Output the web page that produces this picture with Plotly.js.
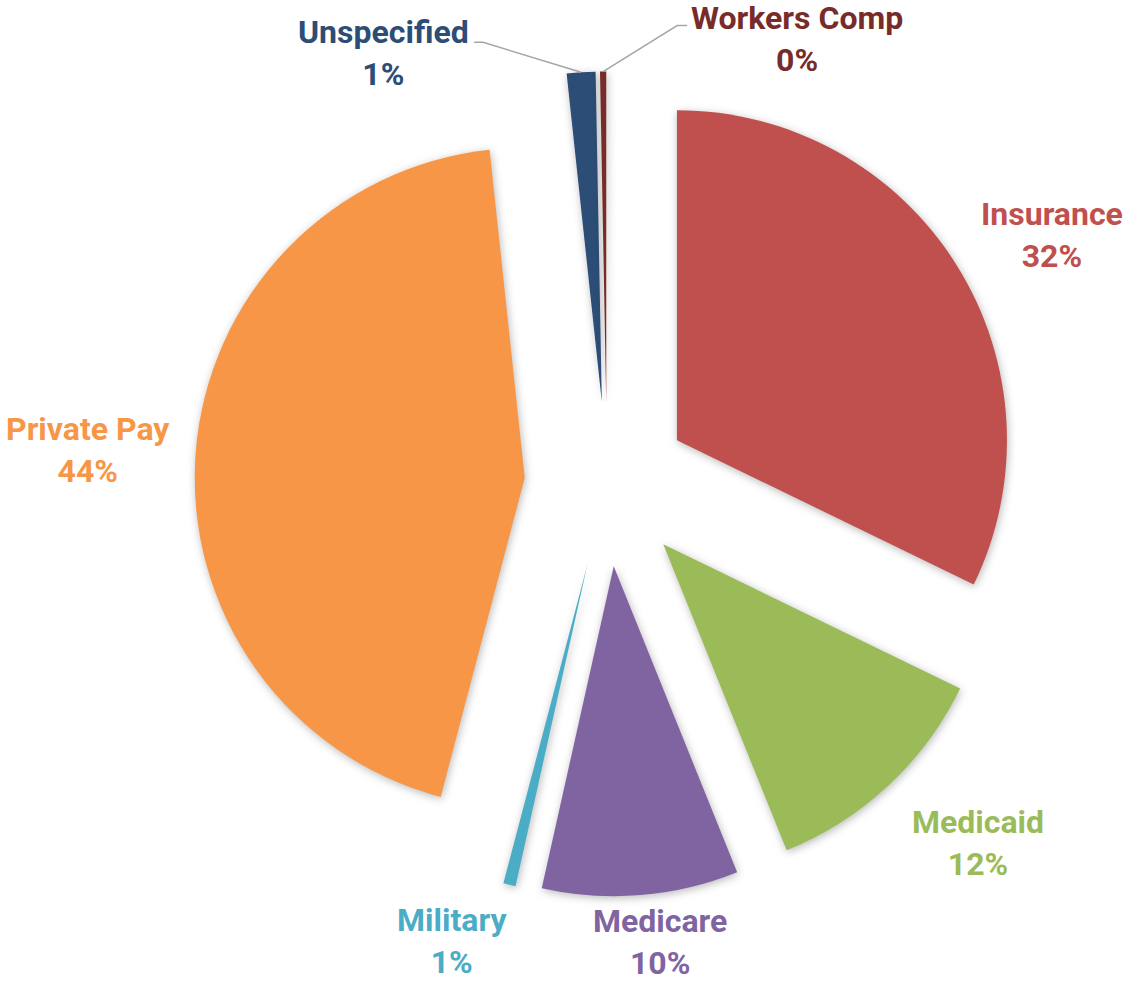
<!DOCTYPE html>
<html>
<head>
<meta charset="utf-8">
<script src="https://cdn.plot.ly/plotly-3.0.1.min.js"></script>
<style>
html,body{margin:0;padding:0;background:#fff;}
#chart{width:1128px;height:981px;}
#chart .pielayer .slice path.surface{filter:drop-shadow(1px 2px 4px rgba(0,0,0,0.28));}
</style>
</head>
<body>
<div id="chart"></div>
<script>
// ---- data ----
const categories = ["Insurance", "Medicaid", "Medicare", "Military", "Private Pay", "Unspecified", "Workers Comp"];
const values = [32.2, 11.7, 9.6, 0.6, 44.2, 1.4, 0.3];
const colors = ["#C0504D", "#9BBB59", "#8064A2", "#4BACC6", "#F79646", "#2C4D75", "#772C2A"];

// ---- layout settings ----
const W = 1128, H = 981;
const cx = 607, cy = 484, R = 330, pull = 0.25;
const half = R * (1 + pull);
const labelDist = 438;
// label placement tweaks (px) relative to the computed spot
const labelNudge = [[2, 24], [5, -2], [17, -20], [-51, -10], [1, -1], null, null];
// labels connected with leader lines: [label offset from slice tip, elbow offset from label]
const leader = {5: {dx: -111, dy: -19, anchor: "right", elbow: [[13, -11], [4, -11]]},
                6: {dx: 87, dy: -33, anchor: "left", elbow: [[-13, -13], [-3, -13]]}};
const FONT = "Roboto, 'Open Sans', sans-serif";

const total = values.reduce((a, b) => a + b, 0);
const px2x = p => p / W, py2y = p => 1 - p / H;

const annotations = [];
const shapes = [];
let cum = 0;
values.forEach((v, i) => {
  const mid = (cum + v / 2) / total * 2 * Math.PI;
  cum += v;
  const ux = Math.sin(mid), uy = -Math.cos(mid);
  const pct = Math.round(v / total * 100) + "%";
  const text = categories[i] + "<br>" + pct;
  const base = {text: text, showarrow: false, xref: "paper", yref: "paper", borderpad: 0,
    font: {family: FONT, size: 32, color: colors[i], weight: "bold"}, align: "center"};
  if (leader[i]) {
    const L = leader[i];
    const tx = cx + half * ux, ty = cy + half * uy;
    const lx = tx + L.dx, ly = ty + L.dy;
    annotations.push(Object.assign(base, {x: px2x(lx), y: py2y(ly), xanchor: L.anchor, yanchor: "middle"}));
    const e1 = [lx + L.elbow[0][0], ly + L.elbow[0][1]];
    const e2 = [lx + L.elbow[1][0], ly + L.elbow[1][1]];
    shapes.push({type: "path", xref: "paper", yref: "paper",
      path: `M ${px2x(tx)} ${py2y(ty)} L ${px2x(e1[0])} ${py2y(e1[1])} L ${px2x(e2[0])} ${py2y(e2[1])}`,
      line: {color: "#A6A6A6", width: 1.5}});
  } else {
    const n = labelNudge[i] || [0, 0];
    const lx = cx + labelDist * ux + n[0], ly = cy + labelDist * uy + n[1];
    const xa = ux > 0.3 ? "left" : (ux < -0.3 ? "right" : "center");
    const ya = uy > 0.3 ? "top" : (uy < -0.3 ? "bottom" : "middle");
    annotations.push(Object.assign(base, {x: px2x(lx), y: py2y(ly), xanchor: xa, yanchor: ya}));
  }
});

const trace = {
  type: "pie",
  labels: categories,
  values: values,
  sort: false,
  direction: "clockwise",
  rotation: 0,
  pull: categories.map(() => pull),
  marker: {colors: colors, line: {width: 0}},
  textinfo: "none",
  hoverinfo: "label+percent",
  showlegend: false,
  domain: {x: [(cx - half) / W, (cx + half) / W], y: [(H - cy - half) / H, (H - cy + half) / H]}
};

Plotly.newPlot("chart", [trace], {
  width: W, height: H,
  margin: {l: 0, r: 0, t: 0, b: 0},
  paper_bgcolor: "#fff",
  showlegend: false,
  annotations: annotations,
  shapes: shapes
}, {displayModeBar: false, staticPlot: true});
</script>
</body>
</html>
